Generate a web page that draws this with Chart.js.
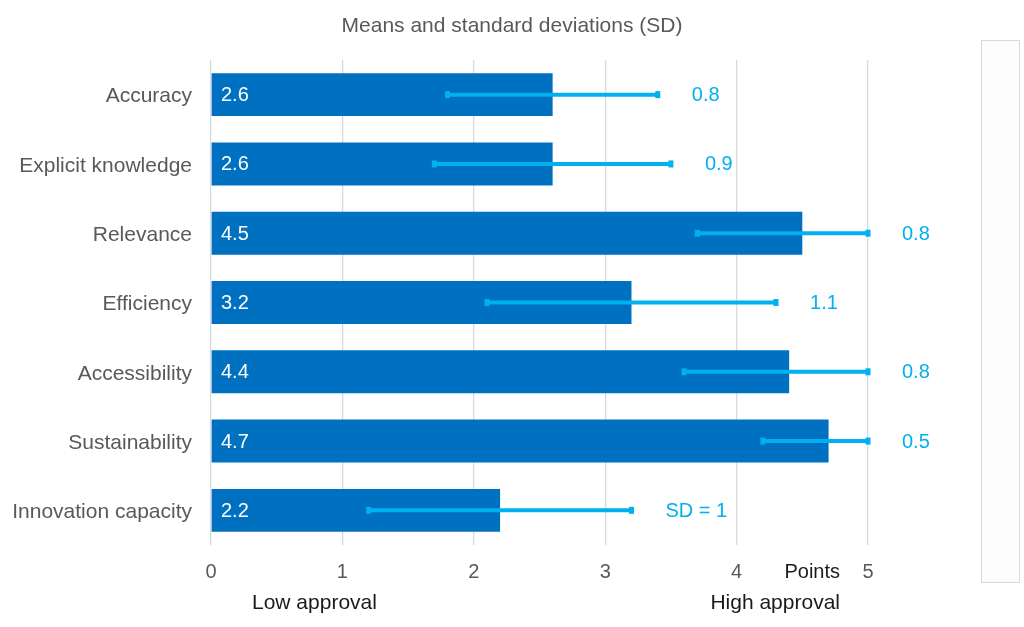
<!DOCTYPE html>
<html>
<head>
<meta charset="utf-8">
<script src="https://cdn.jsdelivr.net/npm/chart.js@4/dist/chart.umd.min.js"></script>
<style>
  html, body { margin: 0; padding: 0; background: #ffffff; }
  #wrap { position: relative; width: 1024px; height: 627px; }
  canvas { display: block; }
</style>
</head>
<body>
<div id="wrap"><canvas id="c" width="1024" height="627"></canvas></div>
<script>
// ---- data ----
const categories = ["Accuracy", "Explicit knowledge", "Relevance", "Efficiency", "Accessibility", "Sustainability", "Innovation capacity"];
const means = [2.6, 2.6, 4.5, 3.2, 4.4, 4.7, 2.2];
const sds = [0.8, 0.9, 0.8, 1.1, 0.8, 0.5, 1];
const sdLabels = ["0.8", "0.9", "0.8", "1.1", "0.8", "0.5", "SD = 1"];
const xTicks = [0, 1, 2, 3, 4, 5];
const titleText = "Means and standard deviations (SD)";
const unitText = "Points";
const lowText = "Low approval";
const highText = "High approval";

const BAR = "#0070C0";
const ERR = "#00B0F0";
const FONT = "'Liberation Sans', Arial, sans-serif";

const extras = {
  id: "extras",
  beforeDraw(chart) {
    const ctx = chart.ctx;
    ctx.save();
    ctx.fillStyle = "#ffffff";
    ctx.fillRect(0, 0, chart.width, chart.height);
    // empty legend-like panel on the right
    ctx.fillStyle = "#fefdfd";
    ctx.fillRect(981.5, 40.5, 38, 542);
    ctx.strokeStyle = "#d9d9d9";
    ctx.lineWidth = 1;
    ctx.strokeRect(981.5, 40.5, 38, 542);
    ctx.restore();
  },
  afterDatasetsDraw(chart) {
    const ctx = chart.ctx;
    const xs = chart.scales.x;
    const meta = chart.getDatasetMeta(0);
    ctx.save();
    for (let i = 0; i < means.length; i++) {
      const y = meta.data[i].y;
      const lo = Math.max(means[i] - sds[i], xs.min);
      const hi = Math.min(means[i] + sds[i], xs.max);
      const x1 = xs.getPixelForValue(lo), x2 = xs.getPixelForValue(hi);
      // value inside bar
      ctx.fillStyle = "#ffffff";
      ctx.font = "20px " + FONT;
      ctx.textAlign = "left";
      ctx.textBaseline = "middle";
      ctx.fillText(means[i].toFixed(1), xs.getPixelForValue(0) + 10, y + 1);
      // error bar
      ctx.strokeStyle = ERR;
      ctx.lineWidth = 4;
      ctx.beginPath();
      ctx.moveTo(x1, y);
      ctx.lineTo(x2, y);
      ctx.stroke();
      ctx.fillStyle = ERR;
      ctx.fillRect(x1 - 2.5, y - 3.5, 5, 7);
      ctx.fillRect(x2 - 2.5, y - 3.5, 5, 7);
      // SD label
      ctx.fillText(sdLabels[i], x2 + 34, y + 1);
    }
    ctx.restore();
  },
  afterDraw(chart) {
    const ctx = chart.ctx;
    ctx.save();
    ctx.textBaseline = "middle";
    ctx.font = "21px " + FONT;
    ctx.fillStyle = "#595959";
    ctx.textAlign = "center";
    ctx.fillText(titleText, 512, 26);
    ctx.fillStyle = "#1a1a1a";
    ctx.textAlign = "right";
    ctx.font = "20px " + FONT;
    ctx.fillText(unitText, 840, 572);
    ctx.font = "21px " + FONT;
    ctx.fillText(highText, 840, 603);
    ctx.textAlign = "left";
    ctx.fillText(lowText, 252, 603);
    ctx.restore();
  }
};

new Chart(document.getElementById("c"), {
  type: "bar",
  data: {
    labels: categories,
    datasets: [{
      data: means,
      backgroundColor: BAR,
      borderWidth: 0,
      barPercentage: 0.62,
      categoryPercentage: 1
    }]
  },
  options: {
    indexAxis: "y",
    responsive: false,
    animation: false,
    devicePixelRatio: 1,
    layout: { padding: { top: 60, right: 156, bottom: 0, left: 0 } },
    plugins: { legend: { display: false }, title: { display: false }, tooltip: { enabled: false } },
    scales: {
      x: {
        min: 0, max: 5,
        afterBuildTicks(s) { s.ticks = xTicks.map(v => ({ value: v })); },
        afterFit(s) { s.height = 82; },
        grid: { color: "#d3dae2", lineWidth: 1.3, drawTicks: false },
        border: { display: false },
        ticks: { color: "#595959", font: { size: 20, family: FONT }, padding: 15 }
      },
      y: {
        afterFit(s) { s.width = 211; },
        grid: { display: false, drawTicks: false },
        border: { display: false },
        ticks: { color: "#595959", font: { size: 21, family: FONT }, padding: 19, labelOffset: 2 }
      }
    }
  },
  plugins: [extras]
});
</script>
</body>
</html>
